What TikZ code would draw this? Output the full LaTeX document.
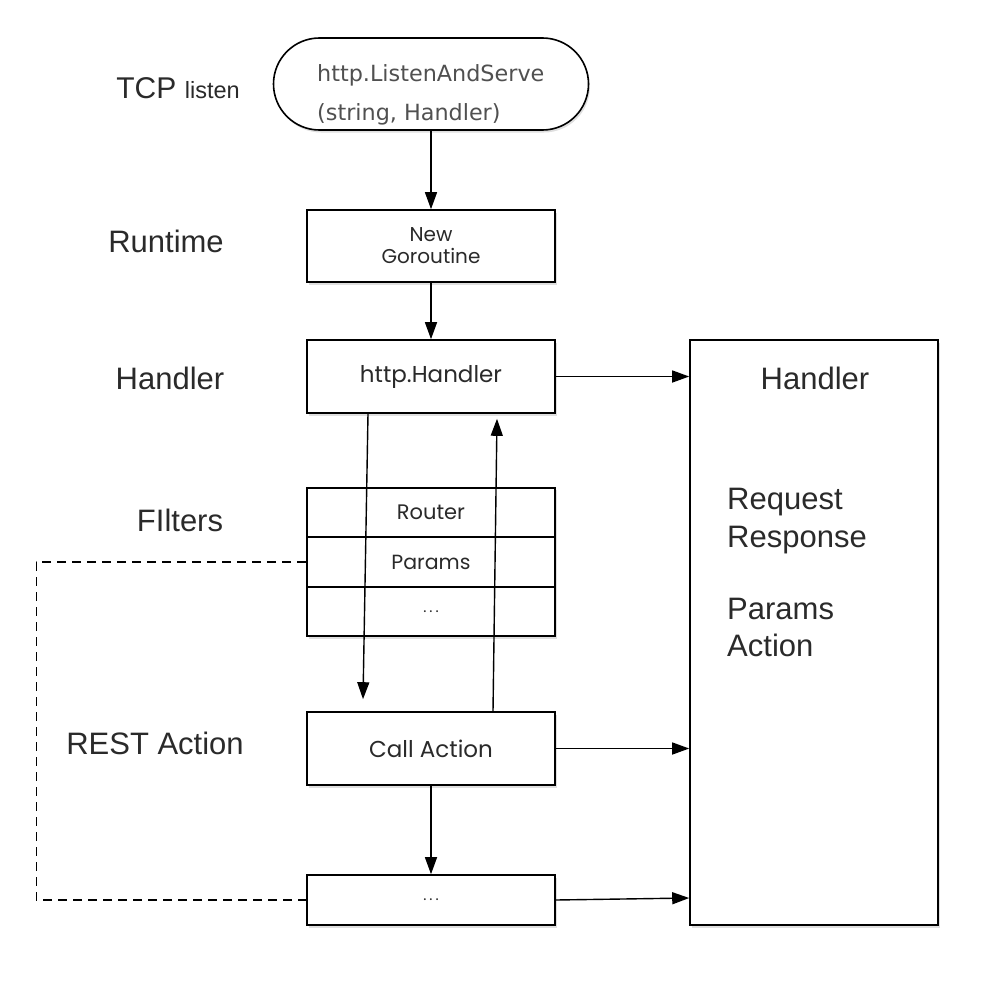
\documentclass[tikz,border=0pt]{standalone}
\usepackage{fontspec}
\setmainfont{Liberation Sans}
\newfontfamily\boxfont{Poppins}
\newfontfamily\pillfont{DejaVu Sans}
\usetikzlibrary{arrows.meta,shadows,positioning,calc}
\definecolor{txt}{HTML}{2A2A2A}
\definecolor{mono}{HTML}{505050}
\newcommand{\mydots}{.\hspace{3pt}.\hspace{3pt}.}
\tikzset{
  blk/.style={draw=black, line width=1.6pt, fill=white, minimum width=248pt, inner sep=0pt,
    drop shadow={shadow xshift=1.5pt, shadow yshift=-2.5pt, opacity=0.25},
    font=\boxfont\fontsize{23}{26}\selectfont, text=txt},
  lbl/.style={font=\fontsize{31}{36}\selectfont, text=txt, anchor=base, inner sep=0pt},
  arr/.style={line width=1.4pt, -{Triangle[length=17pt,width=12pt]}},
  dsh/.style={line width=1.3pt, dash pattern=on 9pt off 6pt}
}
\begin{document}
\begin{tikzpicture}[x=1pt,y=-1pt]
\useasboundingbox (0,0) rectangle (984,990);
% nodes
\node[draw=black, line width=1.6pt, fill=white, rounded corners=46pt, minimum width=315pt, minimum height=92pt,
  drop shadow={shadow xshift=1.5pt, shadow yshift=-2.5pt, opacity=0.25}] (pill) at (431,84) {};
\node[align=left, text=mono, font=\pillfont\fontsize{22.3}{39}\selectfont, inner sep=0pt, anchor=north west]
  (pilltxt) at ([xshift=-114pt,yshift=20pt]pill.center) {http.ListenAndServe\\(string, Handler)};
\node[blk, minimum height=72pt, align=center, font=\boxfont\fontsize{20}{22}\selectfont] (gor) at (431,246) {New\\Goroutine};
\node[blk, minimum height=73pt] (hh) at (431,376.5) {http.Handler};
\node[blk, minimum height=49.5pt, font=\boxfont\fontsize{21}{22}\selectfont] (r1) at (431,512.5) {Router};
\node[blk, minimum height=49.5pt, drop shadow={opacity=0}, font=\boxfont\fontsize{20.5}{22}\selectfont] (r2) at (431,562) {Params};
\node[blk, minimum height=49.5pt, font=\boxfont\fontsize{15}{18}\selectfont] (r3) at (431,611.5) {\mydots};
\node[blk, minimum height=73pt] (call) at (431,748.5) {Call Action};
\node[blk, minimum height=50pt, font=\boxfont\fontsize{15}{18}\selectfont] (dots) at (431,900) {\mydots};
\node[blk, minimum height=585pt] (big) at (814,632.5) {};
% left labels
\node[lbl] (ltcp) at (178,98) {{\fontsize{30}{30}\selectfont TCP} {\fontsize{23.5}{24}\selectfont listen}};
\node[lbl] (lrun) at (166,252) {Runtime};
\node[lbl] (lhan) at (170,389) {Handler};
\node[lbl] (lfil) at (180,531) {FIlters};
\node[lbl] (lrest) at (155,754) {REST Action};
% right box texts
\node[lbl] (rhan) at (815,389) {Handler};
\node[lbl, anchor=base west] (rreq) at (727,509) {Request};
\node[lbl, anchor=base west] (rresp) at (727,547) {Response};
\node[lbl, anchor=base west] (rpar) at (727,619) {Params};
\node[lbl, anchor=base west] (ract) at (727,656) {Action};
% connectors
\draw[arr] (pill.south) -- (gor.north);
\draw[arr] (gor.south) -- (hh.north);
\draw[arr] ([xshift=-63pt]hh.south) -- ([xshift=-68pt,yshift=12pt]call.north);
\draw[arr] ([xshift=62pt]call.north) -- ([xshift=66pt,yshift=-5pt]hh.south);
\draw[arr] (call.south) -- (dots.north);
\draw[arr] (hh.east) -- (big.west |- hh.east);
\draw[arr] (call.east) -- (big.west |- call.east);
\draw[arr] (dots.east) -- ([yshift=2pt]big.west |- dots.east);
\draw[dsh] (r2.west) -- ++(-270,0) |- (dots.west);
\end{tikzpicture}
\end{document}
